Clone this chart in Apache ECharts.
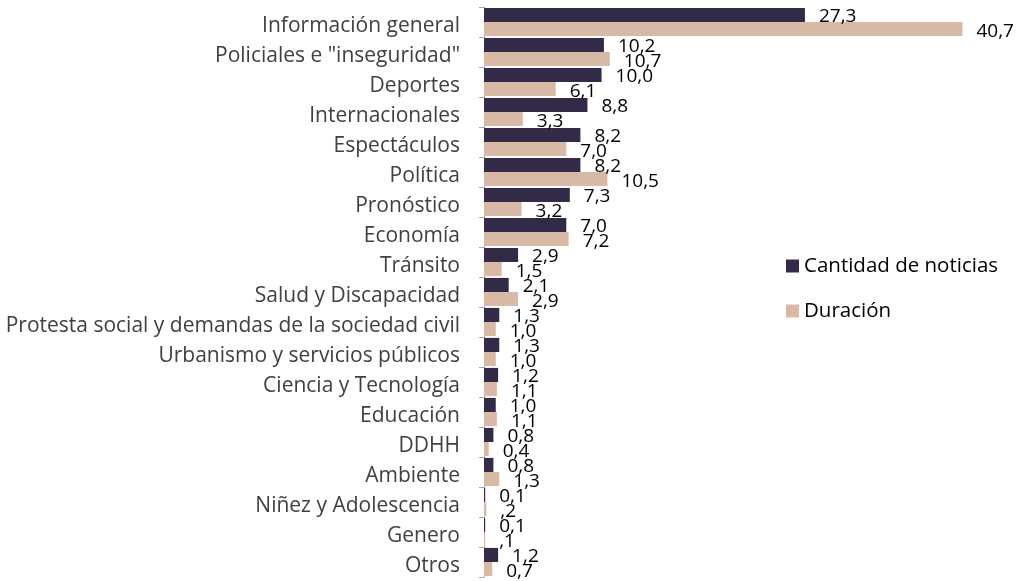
<!DOCTYPE html>
<html>
<head>
<meta charset="utf-8">
<script src="https://cdn.jsdelivr.net/npm/echarts@6/dist/echarts.min.js"></script>
<style>
  html, body { margin: 0; padding: 0; background: #fff; }
  #chart { width: 1021px; height: 581px; }
</style>
</head>
<body>
<div id="chart"></div>
<script>
var categorias = [
    'Información general', 'Policiales e "inseguridad"', 'Deportes', 'Internacionales',
    'Espectáculos', 'Política', 'Pronóstico', 'Economía', 'Tránsito',
    'Salud y Discapacidad', 'Protesta social y demandas de la sociedad civil',
    'Urbanismo y servicios públicos', 'Ciencia y Tecnología', 'Educación',
    'DDHH', 'Ambiente', 'Niñez y Adolescencia', 'Genero', 'Otros'
];
var cantidad = [27.3, 10.2, 10.0, 8.8, 8.2, 8.2, 7.3, 7.0, 2.9, 2.1, 1.3, 1.3, 1.2, 1.0, 0.8, 0.8, 0.1, 0.1, 1.2];
var duracion = [40.7, 10.7, 6.1, 3.3, 7.0, 10.5, 3.2, 7.2, 1.5, 2.9, 1.0, 1.0, 1.1, 1.1, 0.4, 1.3, 0.2, 0.1, 0.7];
// etiquetas tal como aparecen en el gráfico original
var etiquetasDuracion = ['40,7', '10,7', '6,1', '3,3', '7,0', '10,5', '3,2', '7,2', '1,5', '2,9',
    '1,0', '1,0', '1,1', '1,1', '0,4', '1,3', ',2', ',1', '0,7'];

var fuente = 'Open Sans';
var myChart = echarts.init(document.getElementById('chart'));

function coma(v) {
    return v.toFixed(1).replace('.', ',');
}

var option = {
    backgroundColor: '#ffffff',
    animation: false,
    grid: { left: 484, top: 7, right: 8, bottom: 4, containLabel: false },
    legend: {
        orient: 'vertical',
        left: 781,
        top: 249,
        itemGap: 21,
        itemWidth: 13,
        itemHeight: 13,
        icon: 'rect',
        textStyle: { fontFamily: fuente, fontSize: 20.5, lineHeight: 24, color: '#000' },
        data: ['Cantidad de noticias', 'Duración']
    },
    xAxis: {
        type: 'value',
        min: 0,
        max: 45,
        show: false
    },
    yAxis: {
        type: 'category',
        inverse: true,
        data: categorias,
        axisLine: { lineStyle: { color: '#a6a6a6' } },
        axisTick: { show: true, length: 5, lineStyle: { color: '#a6a6a6' } },
        axisLabel: {
            fontFamily: fuente, fontSize: 21, color: '#404040', margin: 24,
            verticalAlign: 'top', lineHeight: 8
        }
    },
    series: [
        {
            name: 'Cantidad de noticias',
            type: 'bar',
            data: cantidad,
            barGap: '0%',
            barCategoryGap: '6%',
            itemStyle: { color: '#322a47' },
            label: {
                show: true,
                position: 'right',
                distance: 14,
                offset: [0, 2],
                fontFamily: fuente,
                fontSize: 19,
                color: '#000',
                formatter: function (p) { return coma(p.value); }
            }
        },
        {
            name: 'Duración',
            type: 'bar',
            data: duracion,
            itemStyle: { color: '#d8b9a6' },
            label: {
                show: true,
                position: 'right',
                distance: 14,
                offset: [0, 3],
                fontFamily: fuente,
                fontSize: 19,
                color: '#000',
                formatter: function (p) { return etiquetasDuracion[p.dataIndex]; }
            }
        }
    ]
};
myChart.setOption(option);
</script>
</body>
</html>
